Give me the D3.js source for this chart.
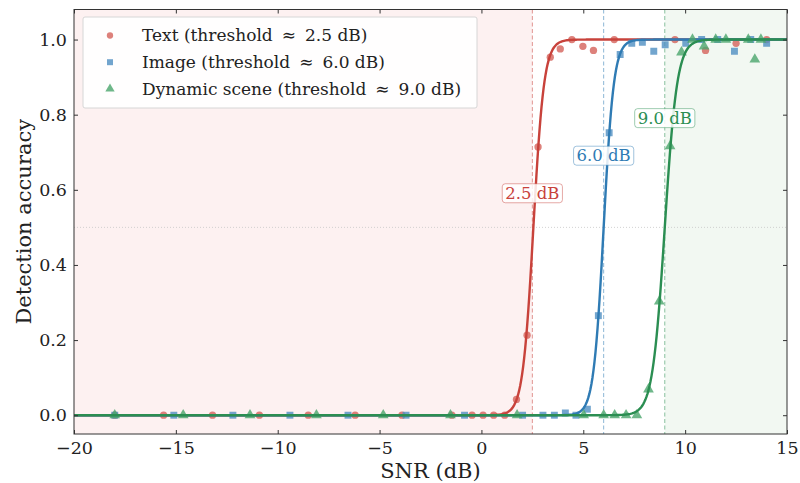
<!DOCTYPE html>
<html>
<head>
<meta charset="utf-8">
<script src="https://cdn.jsdelivr.net/npm/d3@7"></script>
<style>
  body { margin: 0; background: #fff; }
  svg { font-family: "DejaVu Serif", serif; }
</style>
</head>
<body>
<svg id="chart" width="800" height="483"></svg>
<script>
const textX = [-18, -15.6, -13.2, -10.9, -8.5, -6.2, -3.9, -1.45, -0.46, 0.08, 0.6, 1.14, 1.72, 2.24, 2.78, 3.38, 3.87, 4.44, 4.98, 5.5, 6.52, 9.5, 11.0, 12.5, 14.0];
const textY = [0, 0, 0, 0, 0, 0, 0, 0, 0, 0, 0, 0, 0.042, 0.213, 0.714, 0.953, 0.975, 1.0, 0.982, 0.971, 1.0, 1.0, 0.971, 0.99, 1.0];

const imageX = [-18, -15.1, -12.2, -9.4, -6.55, -3.7, -0.83, 2.02, 3.02, 3.58, 4.12, 4.64, 5.2, 5.74, 6.27, 6.81, 7.38, 7.9, 8.46, 9.02, 10.03, 10.81, 11.6, 12.42, 13.22, 14.0];
const imageY = [0, 0, 0, 0, 0, 0, 0, 0, 0, 0, 0.006, 0, 0.016, 0.265, 0.752, 0.96, 0.99, 0.993, 0.969, 0.986, 0.99, 1.0, 1.0, 0.969, 1.0, 0.99];

const sceneX = [-18, -14.64, -11.36, -8.1, -4.82, -1.52, 1.75, 5.02, 6.0, 6.54, 7.1, 7.63, 8.2, 8.73, 9.26, 9.82, 10.36, 10.93, 11.5, 12.0, 13.1, 13.42, 13.72];
const sceneY = [0, 0, 0, 0, 0, 0, 0, 0, 0, 0, 0, 0, 0.069, 0.303, 0.716, 0.966, 1.0, 0.982, 1.0, 1.0, 1.0, 0.947, 1.0];

const namePrefix = ["Text (threshold", "Image (threshold", "Dynamic scene (threshold"];
const nameSuffix = ["2.5 dB)", "6.0 dB)", "9.0 dB)"];
const thresholds = [2.5, 6.0, 9.0];
const fitCenters = [2.55, 6.0, 9.0];
const fitSlopes = [3.8, 4.0, 3.3];
const labelY = [0.6, 0.7, 0.8];
const thresholdLabels = ["2.5 dB", "6.0 dB", "9.0 dB"];
const xTicks = [-20, -15, -10, -5, 0, 5, 10, 15];
const yTicks = [0, 0.2, 0.4, 0.6, 0.8, 1.0];

const lineColors = ["#c8423b", "#2f7bb4", "#2b8e52"];
const pointColors = ["#d5615a", "#4f8fc2", "#4aa56c"];
const shapes = [d3.symbolCircle, d3.symbolSquare, d3.symbolTriangle];
const shapeSizes = [42, 48, 50];

const series = [
  { x: textX, y: textY },
  { x: imageX, y: imageY },
  { x: sceneX, y: sceneY }
];

const margin = { top: 9.5, right: 13, bottom: 49, left: 74 },
    width = 800 - margin.left - margin.right,
    height = 483 - margin.top - margin.bottom;

const svg = d3.select("#chart")
    .append("g")
    .attr("transform", `translate(${margin.left},${margin.top})`);

const x = d3.scaleLinear().domain([-20, 15]).range([0, width]);
const y = d3.scaleLinear().domain([-0.05, 1.08]).range([height, 0]);

svg.append("defs").append("clipPath").attr("id", "clip")
  .append("rect").attr("width", width).attr("height", height);

// shaded zones
svg.append("rect")
    .attr("x", x(-20)).attr("y", 0)
    .attr("width", x(thresholds[0]) - x(-20)).attr("height", height)
    .attr("fill", "#fdf1f1");
svg.append("rect")
    .attr("x", x(thresholds[2])).attr("y", 0)
    .attr("width", x(15) - x(thresholds[2])).attr("height", height)
    .attr("fill", "#f2f8f2");

// 0.5 reference
svg.append("line")
    .attr("x1", 0).attr("x2", width)
    .attr("y1", y(0.5)).attr("y2", y(0.5))
    .attr("stroke", "#c8c8c8").attr("stroke-width", 0.8)
    .attr("stroke-dasharray", "1,2");

// threshold lines
thresholds.forEach((t, i) => {
  svg.append("line")
      .attr("x1", x(t)).attr("x2", x(t))
      .attr("y1", 0).attr("y2", height)
      .attr("stroke", lineColors[i]).attr("stroke-opacity", 0.55)
      .attr("stroke-width", 1)
      .attr("stroke-dasharray", "4,2.5");
});

const plot = svg.append("g").attr("clip-path", "url(#clip)");
const grid = d3.range(-20, 15.001, 0.05);

series.forEach((s, i) => {
  const pts = s.x.map((v, j) => [v, s.y[j]]);
  plot.selectAll(".pt" + i)
      .data(pts)
      .enter()
      .append("path")
      .attr("d", d3.symbol().type(shapes[i]).size(shapeSizes[i]))
      .attr("transform", d => `translate(${x(d[0])},${y(d[1])})`)
      .attr("fill", pointColors[i])
      .attr("fill-opacity", 0.8);

  const fit = grid.map(v => [v, 1 / (1 + Math.exp(-fitSlopes[i] * (v - fitCenters[i])))]);
  plot.append("path")
      .datum(fit)
      .attr("fill", "none")
      .attr("stroke", lineColors[i])
      .attr("stroke-width", 2.4)
      .attr("d", d3.line().x(d => x(d[0])).y(d => y(d[1])));
});

// threshold labels
thresholds.forEach((t, i) => {
  const g = svg.append("g").attr("transform", `translate(${x(t)},${y(labelY[i]) + 3})`);
  const txt = g.append("text")
      .attr("text-anchor", "middle")
      .attr("dy", "0.36em")
      .attr("font-size", 16.5)
      .attr("fill", lineColors[i])
      .text(thresholdLabels[i]);
  const bb = txt.node().getBBox();
  g.insert("rect", "text")
      .attr("x", bb.x - 3).attr("y", bb.y)
      .attr("width", bb.width + 6).attr("height", bb.height)
      .attr("rx", 3)
      .attr("fill", "#fff").attr("fill-opacity", 0.85)
      .attr("stroke", lineColors[i]).attr("stroke-opacity", 0.45);
});

// axes, ticks inward on all four sides
const fmtX = d => d3.format("d")(d).replace("-", "\u2212");
const axes = [
  svg.append("g").attr("transform", `translate(0,${height})`)
      .call(d3.axisBottom(x).tickValues(xTicks).tickFormat(fmtX).tickSizeInner(-4).tickSizeOuter(0).tickPadding(7.5)),
  svg.append("g")
      .call(d3.axisTop(x).tickValues(xTicks).tickFormat("").tickSizeInner(-4).tickSizeOuter(0)),
  svg.append("g")
      .call(d3.axisLeft(y).tickValues(yTicks).tickFormat(d3.format(".1f")).tickSizeInner(-4).tickSizeOuter(0).tickPadding(7)),
  svg.append("g").attr("transform", `translate(${width},0)`)
      .call(d3.axisRight(y).tickValues(yTicks).tickFormat("").tickSizeInner(-4).tickSizeOuter(0))
];
axes.forEach(a => {
  a.select(".domain").remove();
  a.selectAll("line").attr("stroke", "#333");
  a.selectAll("text").attr("font-family", "DejaVu Serif").attr("font-size", 17.5).attr("fill", "#222");
});
svg.append("rect")
    .attr("width", width).attr("height", height)
    .attr("fill", "none").attr("stroke", "#333").attr("stroke-width", 1);

// legend
const legend = svg.append("g").attr("transform", "translate(9,7.5)");
legend.append("rect")
    .attr("width", 394).attr("height", 91).attr("rx", 2)
    .attr("fill", "#fff").attr("fill-opacity", 0.9)
    .attr("stroke", "#d6d6d6");
namePrefix.forEach((name, i) => {
  const row = legend.append("g").attr("transform", `translate(0,${18.5 + i * 26.7})`);
  row.append("path")
      .attr("d", d3.symbol().type(shapes[i]).size(shapeSizes[i] * 0.75))
      .attr("transform", "translate(27,0)")
      .attr("fill", pointColors[i]).attr("fill-opacity", 0.8);
  const t = row.append("text")
      .attr("x", 59).attr("dy", "0.35em")
      .attr("font-size", 17).attr("fill", "#222");
  t.append("tspan").text(name);
  t.append("tspan").attr("dx", 9).text("\u2248");
  t.append("tspan").attr("dx", 9).text(nameSuffix[i]);
});

svg.append("text")
    .attr("text-anchor", "middle")
    .attr("x", width / 2)
    .attr("y", height + 44)
    .attr("font-size", 21).attr("fill", "#222")
    .text("SNR (dB)");

svg.append("text")
    .attr("text-anchor", "middle")
    .attr("transform", "rotate(-90)")
    .attr("x", -height / 2)
    .attr("y", -43)
    .attr("font-size", 21).attr("fill", "#222")
    .text("Detection accuracy");
</script>
</body>
</html>
